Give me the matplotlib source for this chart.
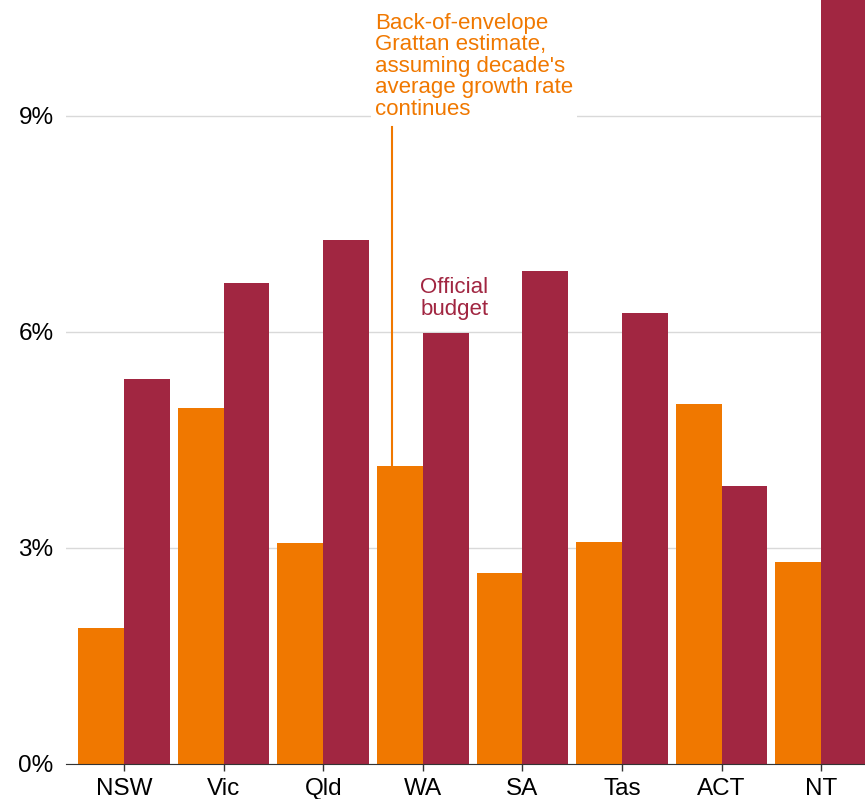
import matplotlib.pyplot as plt
import numpy as np

plt.rcParams['font.family'] = ['Liberation Sans', 'DejaVu Sans']

states = ["NSW", "Vic", "Qld", "WA", "SA", "Tas", "ACT", "NT"]
grattan = [1.89, 4.94, 3.07, 4.14, 2.65, 3.08, 5.00, 2.81]
official = [5.35, 6.68, 7.28, 5.99, 6.85, 6.26, 3.86, 11.6]

ORANGE = "#F07800"
RED = "#A12641"

fig = plt.figure(figsize=(8.65, 7.99), dpi=100)
ax = fig.add_axes([66 / 865, 35 / 799, 1 - 66 / 865, 1 - 35 / 799])

x = np.arange(len(states))
w = 0.46
ax.bar(x - w / 2, grattan, w, color=ORANGE, zorder=3)
ax.bar(x + w / 2, official, w, color=RED, zorder=3)

ax.set_xlim(-0.583, 7.44)
ax.set_ylim(0, 10.61)

ax.set_yticks([0, 3, 6, 9])
ax.set_yticklabels(["0%", "3%", "6%", "9%"])
ax.set_xticks(x)
ax.set_xticklabels(states)
ax.tick_params(axis="y", length=0, pad=9, labelsize=17.5)
ax.tick_params(axis="x", length=5, width=1, color="#333333", pad=5, labelsize=17.5)
ax.grid(axis="y", color="#D9D9D9", linewidth=1, zorder=0)
for s in ["top", "right", "left"]:
    ax.spines[s].set_visible(False)
ax.spines["bottom"].set_color("#333333")
ax.spines["bottom"].set_zorder(5)

# annotations
ax.plot([2.69, 2.69], [4.14, 8.85], color=ORANGE, linewidth=1.5, zorder=4)
ax.text(2.52, 10.43, "Back-of-envelope\nGrattan estimate,\nassuming decade's\naverage growth rate\ncontinues",
        color=ORANGE, fontsize=16, va="top", ha="left", linespacing=1.03,
        bbox=dict(facecolor="white", edgecolor="none", pad=3), zorder=6)
ax.text(2.975, 6.76, "Official\nbudget", color=RED, fontsize=16, va="top", ha="left",
        linespacing=1.03, zorder=6)

fig.savefig("out.png", dpi=100)
